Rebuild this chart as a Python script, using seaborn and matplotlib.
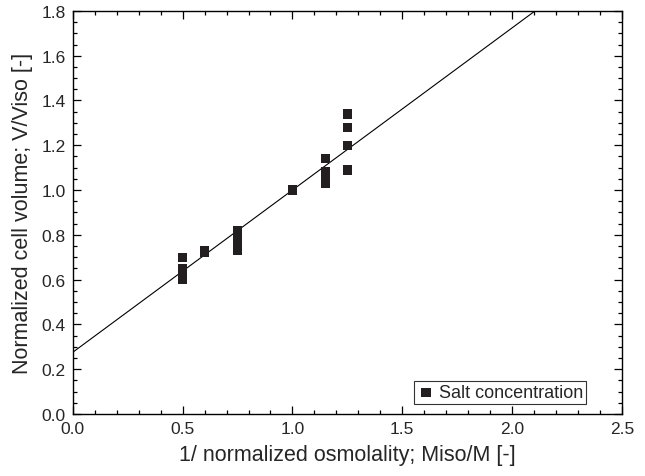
import matplotlib
matplotlib.use('Agg')

import matplotlib.pyplot as plt
import seaborn as sns
import pandas as pd
from matplotlib.ticker import MultipleLocator

# data
inv_osm = [0.5, 0.5, 0.5, 0.5, 0.5,
           0.6, 0.6,
           0.75, 0.75, 0.75, 0.75, 0.75, 0.75,
           1.0,
           1.15, 1.15, 1.15, 1.15, 1.15,
           1.25, 1.25, 1.25, 1.25]
volume = [0.70, 0.65, 0.63, 0.61, 0.60,
          0.72, 0.73,
          0.82, 0.80, 0.78, 0.76, 0.75, 0.73,
          1.00,
          1.14, 1.08, 1.06, 1.05, 1.03,
          1.34, 1.28, 1.20, 1.09]

# fitted line end points
fit_x = [0.0, 2.5]
fit_y = [0.276, 2.086]

df = pd.DataFrame({'x': inv_osm, 'y': volume})
fit = pd.DataFrame({'x': fit_x, 'y': fit_y})

sns.set_style('white')
plt.rcParams['font.family'] = ['Liberation Sans', 'DejaVu Sans']

fig = plt.figure(figsize=(6.45, 4.77), dpi=100)
ax = fig.add_axes([0.113, 0.130, 0.851, 0.845])

sns.lineplot(data=fit, x='x', y='y', color='black', linewidth=0.8, ax=ax)
sns.scatterplot(data=df, x='x', y='y', marker='s', s=45, color='#231f20',
                edgecolor='none', label='Salt concentration', ax=ax, zorder=3)

ax.set_xlim(0, 2.5)
ax.set_ylim(0, 1.8)
ax.xaxis.set_major_locator(MultipleLocator(0.5))
ax.xaxis.set_minor_locator(MultipleLocator(0.1))
ax.yaxis.set_major_locator(MultipleLocator(0.2))
ax.yaxis.set_minor_locator(MultipleLocator(0.05))
ax.tick_params(which='both', direction='in', top=True, right=True,
               bottom=True, left=True, color='black', labelsize=12.5)
ax.tick_params(which='major', length=6, width=0.9, pad=5)
ax.tick_params(which='minor', length=3, width=0.9)
for sp in ax.spines.values():
    sp.set_color('black')
    sp.set_linewidth(1.0)

ax.set_xlabel('1/ normalized osmolality; Miso/M [-]', fontsize=15.5, labelpad=6)
ax.set_ylabel('Normalized cell volume; V/Viso [-]', fontsize=15.5, labelpad=6)

leg = ax.legend(loc='lower right', bbox_to_anchor=(0.934, 0.025), fontsize=13,
                frameon=True, fancybox=False, edgecolor='black',
                handletextpad=0.2, borderpad=0.15, handlelength=1.0,
                borderaxespad=0.0)
leg.get_frame().set_linewidth(0.8)

plt.savefig('out.png', dpi=100)
